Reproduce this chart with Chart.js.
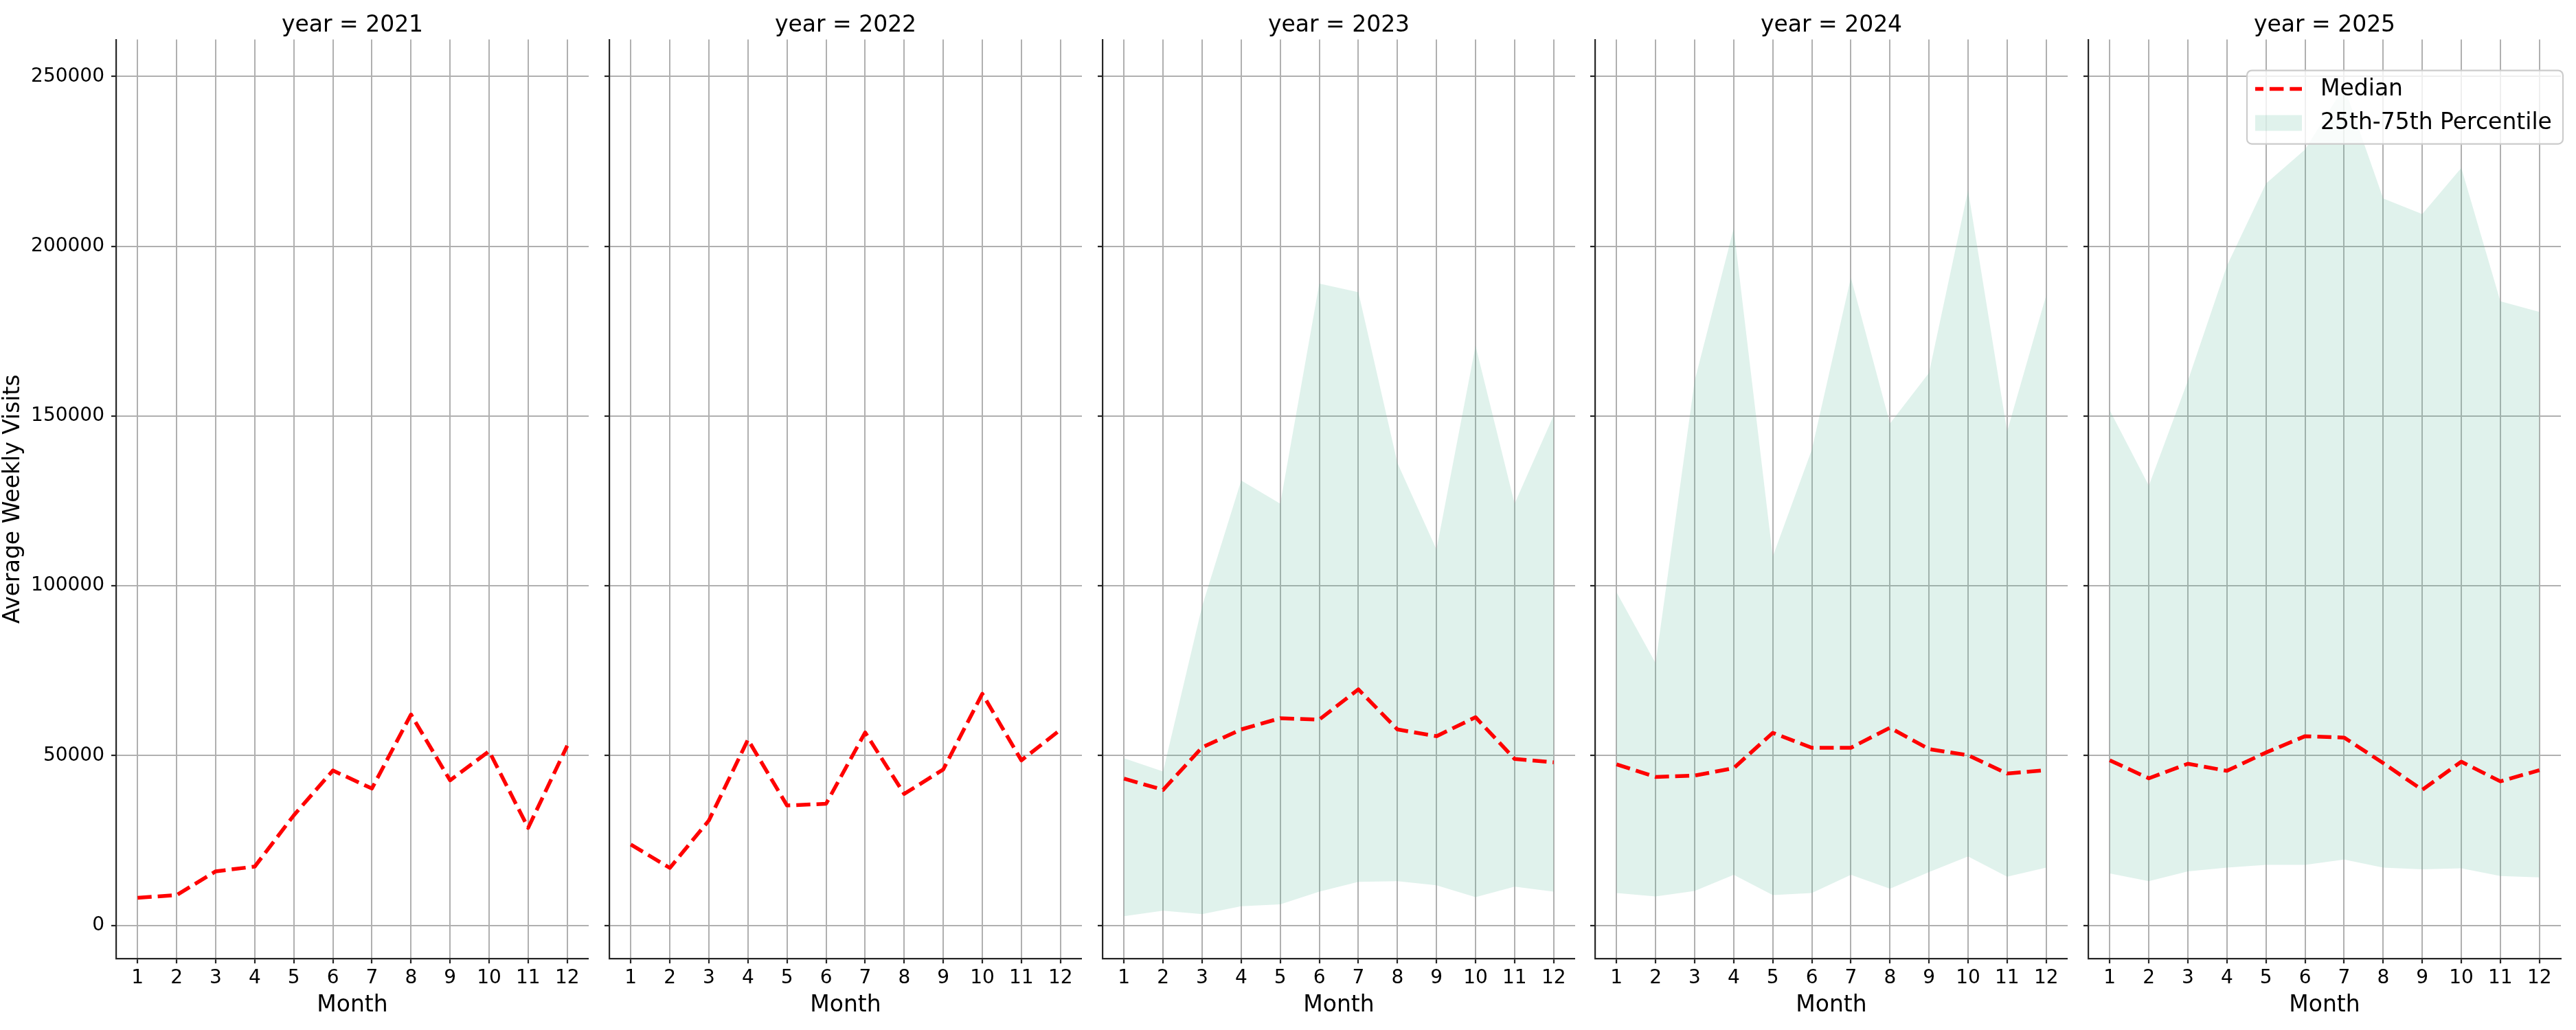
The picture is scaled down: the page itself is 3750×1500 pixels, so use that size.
<!DOCTYPE html>
<html>
<head>
<meta charset="utf-8">
<script src="https://cdn.jsdelivr.net/npm/chart.js@4.4.1/dist/chart.umd.min.js"></script>
<style>
  body { margin: 0; background: #fff; }
  #wrap { position: relative; width: 3750px; height: 1500px; background: #fff; }
  #wrap canvas { position: absolute; top: 0; }
</style>
</head>
<body>
<div id="wrap"></div>
<script>
// data
const months = [1, 2, 3, 4, 5, 6, 7, 8, 9, 10, 11, 12];
const years = [2021, 2022, 2023, 2024, 2025];
const yTicks = [0, 50000, 100000, 150000, 200000, 250000];

const median2021 = [8100, 8900, 15900, 17300, 32400, 45600, 40300, 62100, 42700, 51300, 28700, 52900];
const median2022 = [23800, 16900, 30900, 54700, 35300, 35800, 56800, 38700, 45900, 68200, 48600, 57600];
const median2023 = [43200, 39900, 52400, 57700, 61000, 60600, 69500, 57700, 55700, 61300, 49000, 48000];
const median2024 = [47400, 43700, 44100, 46300, 56700, 52300, 52300, 58200, 51900, 50100, 44700, 45700];
const median2025 = [48600, 43300, 47600, 45500, 50900, 55700, 55300, 47800, 39900, 48200, 42400, 45700];

const p75_2023 = [49200, 45300, 94000, 131000, 124200, 189000, 186500, 136200, 110700, 170700, 124200, 150200];
const p25_2023 = [2700, 4300, 3300, 5600, 6200, 9900, 12800, 13000, 11800, 8300, 11400, 9900];
const p75_2024 = [98100, 77200, 160400, 205300, 108600, 140100, 190800, 147800, 162700, 216500, 145500, 185600];
const p25_2024 = [9500, 8500, 10100, 14900, 8900, 9500, 14900, 10800, 15700, 20300, 14300, 17000];
const p75_2025 = [151700, 129500, 160400, 194300, 218500, 228500, 247000, 214100, 209500, 223100, 183800, 180700];
const p25_2025 = [15300, 13000, 15900, 17000, 17800, 17800, 19400, 17000, 16500, 16800, 14500, 14100];

const medians = [median2021, median2022, median2023, median2024, median2025];
const upper = [null, null, p75_2023, p75_2024, p75_2025];
const lower = [null, null, p25_2023, p25_2024, p25_2025];

const FONT = 'DejaVu Sans';
const INK = '#262626';
const GRID = '#b0b0b0';
const RED = '#ff0000';
const BAND = 'rgba(100, 190, 160, 0.2)';
const DASH = [20.5, 8.9];

// panel placement (px)
const panelLeft = [169, 887, 1605, 2322, 3040];
const plotW = 688;

// legend box drawn inside the last panel, upper right
const bandLegend = {
  id: 'bandLegend',
  afterDraw(chart, args, opts) {
    if (!opts.show) return;
    const { ctx, chartArea } = chart;
    const x = chartArea.right - 457, y = chartArea.top + 45, w = 460, h = 107;
    ctx.save();
    ctx.beginPath();
    ctx.roundRect(x, y, w, h, 7);
    ctx.fillStyle = 'rgba(255,255,255,0.8)';
    ctx.fill();
    ctx.strokeStyle = '#cccccc';
    ctx.lineWidth = 2.2;
    ctx.stroke();

    ctx.beginPath();
    ctx.setLineDash(DASH);
    ctx.lineDashOffset = 8.5;
    ctx.moveTo(x + 12, y + 27);
    ctx.lineTo(x + 80, y + 27);
    ctx.strokeStyle = RED;
    ctx.lineWidth = 5.5;
    ctx.stroke();
    ctx.setLineDash([]);

    ctx.fillStyle = BAND;
    ctx.fillRect(x + 12, y + 65, 68, 23);

    ctx.fillStyle = '#000';
    ctx.font = '33px "' + FONT + '"';
    ctx.textBaseline = 'middle';
    ctx.fillText(chart.data.datasets[0].label, x + 107, y + 28);
    ctx.fillText(chart.data.datasets[1].label, x + 107, y + 77);
    ctx.restore();
  }
};

const wrap = document.getElementById('wrap');

years.forEach((year, i) => {
  const first = i === 0;
  const last = i === years.length - 1;
  const yw = first ? 169 : 20;
  const padR = last ? 12 : 0;

  const canvas = document.createElement('canvas');
  canvas.width = yw + plotW + padR;
  canvas.height = 1500;
  canvas.style.left = (panelLeft[i] - yw) + 'px';
  wrap.appendChild(canvas);

  const datasets = [{
    label: 'Median',
    data: months.map((m, k) => ({ x: m, y: medians[i][k] })),
    borderColor: RED,
    borderWidth: 5.5,
    borderDash: DASH,
    borderCapStyle: 'butt',
    borderJoinStyle: 'round',
    pointRadius: 0,
    tension: 0,
    fill: false
  }];

  if (upper[i]) {
    datasets.push({
      label: '25th-75th Percentile',
      data: months.map((m, k) => ({ x: m, y: upper[i][k] })),
      borderWidth: 0,
      borderColor: 'transparent',
      backgroundColor: BAND,
      pointRadius: 0,
      tension: 0,
      fill: '+1'
    });
    datasets.push({
      label: '25th percentile',
      data: months.map((m, k) => ({ x: m, y: lower[i][k] })),
      borderWidth: 0,
      borderColor: 'transparent',
      pointRadius: 0,
      tension: 0,
      fill: false
    });
  }

  const gridOpts = {
    color: GRID,
    lineWidth: 2,
    drawTicks: true,
    tickLength: 7,
    tickColor: INK,
    tickWidth: 2.2
  };

  new Chart(canvas, {
    type: 'line',
    data: { datasets },
    plugins: [bandLegend],
    options: {
      responsive: false,
      animation: false,
      devicePixelRatio: 1,
      layout: { padding: { left: 0, right: padR, top: 0, bottom: 0 } },
      scales: {
        x: {
          type: 'linear',
          min: 0.45,
          max: 12.55,
          afterBuildTicks: s => { s.ticks = months.map(v => ({ value: v })); },
          afterFit: s => { s.height = 104; },
          grid: gridOpts,
          border: { color: INK, width: 2.2 },
          ticks: {
            font: { family: FONT, size: 28 },
            color: '#000',
            padding: 5,
            maxRotation: 0,
            autoSkip: false,
            callback: v => String(v)
          },
          title: {
            display: true,
            text: 'Month',
            font: { family: FONT, size: 33 },
            color: '#000',
            padding: { top: 0, bottom: 16 }
          }
        },
        y: {
          type: 'linear',
          min: -9800,
          max: 260900,
          afterBuildTicks: s => { s.ticks = yTicks.map(v => ({ value: v })); },
          afterFit: s => { s.width = yw; },
          grid: gridOpts,
          border: { color: INK, width: 2.2 },
          ticks: {
            display: first,
            font: { family: FONT, size: 28 },
            color: '#000',
            padding: 10,
            callback: v => String(v)
          },
          title: {
            display: first,
            text: 'Average Weekly Visits',
            font: { family: FONT, size: 33 },
            color: '#000',
            padding: { top: 0, bottom: 0 }
          }
        }
      },
      plugins: {
        legend: { display: false },
        tooltip: { enabled: false },
        title: {
          display: true,
          text: 'year = ' + year,
          fullSize: false,
          font: { family: FONT, size: 33, weight: 'normal' },
          color: '#000',
          padding: { top: 18, bottom: 0 }
        },
        bandLegend: { show: last }
      }
    }
  });
});
</script>
</body>
</html>
